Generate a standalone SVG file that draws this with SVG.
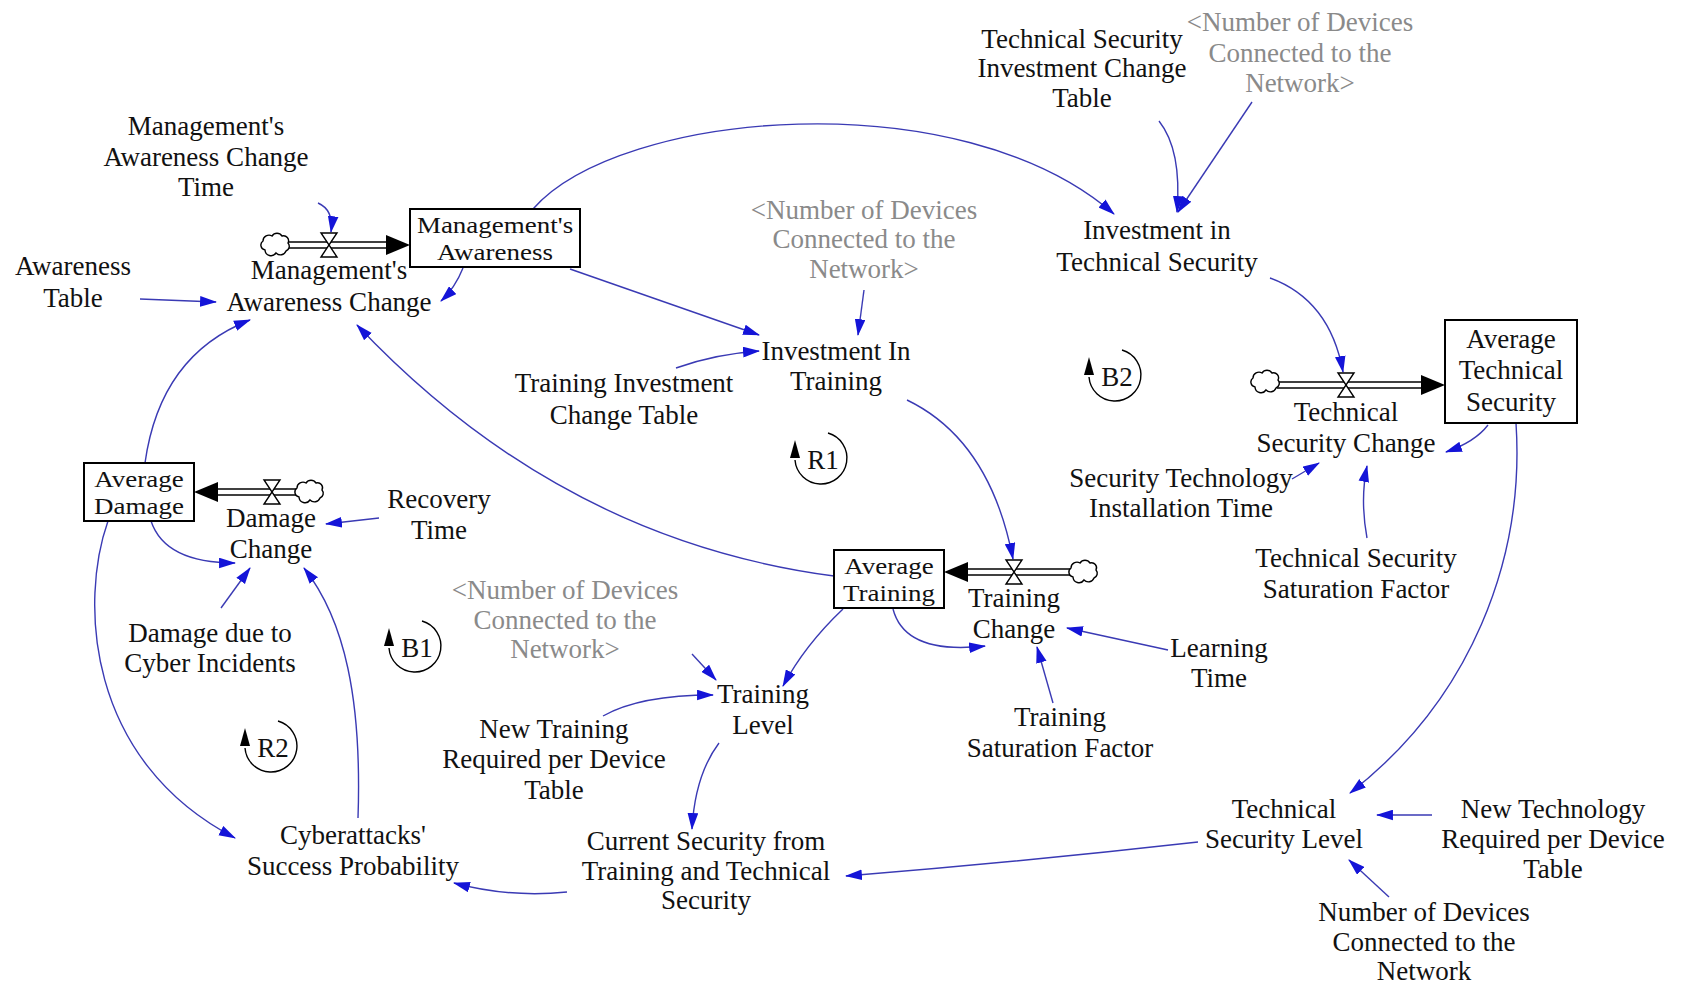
<svg xmlns="http://www.w3.org/2000/svg" width="1688" height="987" viewBox="0 0 1688 987">
<style>
.t{font-family:"Liberation Serif","Times New Roman",serif;font-size:27px;fill:#111;text-anchor:middle}
.g{fill:#8a8a8a}
.c{fill:none;stroke:#3a3ab4;stroke-width:1.4;marker-end:url(#ah)}
.box{fill:#fff;stroke:#000;stroke-width:2}
.pipe{stroke:#000;stroke-width:1.6;fill:none}
.valve{fill:#fff;stroke:#000;stroke-width:1.4}
.cloud{fill:#fff;stroke:#000;stroke-width:1.4}
.loop{fill:none;stroke:#000;stroke-width:1.4}
</style>
<defs>
<marker id="ah" viewBox="0 0 16 10" refX="15" refY="5" markerWidth="17" markerHeight="11" markerUnits="userSpaceOnUse" orient="auto">
<path d="M0,0 L16,5 L0,10 z" fill="#1414d8"/>
</marker>
<path id="cl" class="cloud" d="M-10,5 a5,5 0 0,1 -2,-9 a6,6 0 0,1 9,-5 a6,6 0 0,1 10,0 a5,5 0 0,1 6,7 a5,5 0 0,1 -2,8 a6,6 0 0,1 -10,2 a6,6 0 0,1 -11,-3 z"/>
<path id="vl" class="valve" d="M-8,-12 L8,-12 L-8,12 L8,12 z"/>
</defs>
<rect width="1688" height="987" fill="#fff"/>

<g id="connectors">
<path class="c" d="M318,203 Q334,210 331,232"/>
<path class="c" d="M140,299 L216,302"/>
<path class="c" d="M463,268 Q455,288 441,301"/>
<path class="c" d="M145,463 Q160,355 250,320"/>
<path class="c" d="M834,576 Q560,540 357,325"/>
<path class="c" d="M533,209 C620,110 960,80 1114,214"/>
<path class="c" d="M570,269 L759,335"/>
<path class="c" d="M864,290 L858,335"/>
<path class="c" d="M676,368 Q715,354 759,351"/>
<path class="c" d="M1159,121 Q1182,150 1177,212"/>
<path class="c" d="M1252,102 L1178,212"/>
<path class="c" d="M1270,278 Q1330,300 1343,372"/>
<path class="c" d="M1488,425 Q1475,442 1446,452"/>
<path class="c" d="M1292,479 L1319,463"/>
<path class="c" d="M1367,538 Q1360,500 1367,466"/>
<path class="c" d="M1516,423 C1525,560 1470,700 1350,793"/>
<path class="c" d="M1432,815 L1377,815"/>
<path class="c" d="M1389,897 L1349,860"/>
<path class="c" d="M1198,842 Q1020,862 846,876"/>
<path class="c" d="M719,743 Q695,775 692,829"/>
<path class="c" d="M567,892 Q510,898 454,883"/>
<path class="c" d="M358,818 C362,700 345,620 304,568"/>
<path class="c" d="M108,521 C80,600 85,760 235,838"/>
<path class="c" d="M151,521 Q165,563 235,563"/>
<path class="c" d="M221,608 L250,568"/>
<path class="c" d="M379,518 L326,524"/>
<path class="c" d="M907,400 Q990,440 1013,559"/>
<path class="c" d="M843,609 Q805,645 783,686"/>
<path class="c" d="M893,609 Q905,655 985,646"/>
<path class="c" d="M1168,650 L1067,628"/>
<path class="c" d="M1053,703 L1037,647"/>
<path class="c" d="M692,654 L716,680"/>
<path class="c" d="M603,716 Q640,695 713,695"/>
</g>

<g id="flow-mgmt-awareness-change">
<line class="pipe" x1="286" y1="242" x2="390" y2="242"/>
<line class="pipe" x1="286" y1="248" x2="390" y2="248"/>
<polygon points="410,245 386,235 386,255" fill="#000"/>
<use href="#cl" x="275" y="245"/>
<use href="#vl" x="329" y="245"/>
<text class="t"><tspan x="329" y="279">Management's</tspan><tspan x="329" y="311">Awareness Change</tspan></text>
</g>

<g id="flow-technical-security-change">
<line class="pipe" x1="1277" y1="382" x2="1425" y2="382"/>
<line class="pipe" x1="1277" y1="388" x2="1425" y2="388"/>
<polygon points="1445,385 1421,375 1421,395" fill="#000"/>
<use href="#cl" x="1265" y="382"/>
<use href="#vl" x="1346" y="385"/>
<text class="t"><tspan x="1346" y="421">Technical</tspan><tspan x="1346" y="452">Security Change</tspan></text>
</g>

<g id="flow-training-change">
<line class="pipe" x1="964" y1="569" x2="1071" y2="569"/>
<line class="pipe" x1="964" y1="575" x2="1071" y2="575"/>
<polygon points="944,572 968,562 968,582" fill="#000"/>
<use href="#cl" x="1083" y="572"/>
<use href="#vl" x="1014" y="572"/>
<text class="t"><tspan x="1014" y="607">Training</tspan><tspan x="1014" y="638">Change</tspan></text>
</g>

<g id="flow-damage-change">
<line class="pipe" x1="214" y1="489" x2="297" y2="489"/>
<line class="pipe" x1="214" y1="495" x2="297" y2="495"/>
<polygon points="194,492 218,482 218,502" fill="#000"/>
<use href="#cl" x="309" y="492"/>
<use href="#vl" x="272" y="492"/>
<text class="t"><tspan x="271" y="527">Damage</tspan><tspan x="271" y="558">Change</tspan></text>
</g>

<g id="stock-management-awareness">
<rect class="box" x="410" y="209" width="170" height="58"/>
<text class="t" transform="translate(495,233) scale(1,0.85)"><tspan x="0" y="0">Management's</tspan><tspan x="0" y="31.8">Awareness</tspan></text>
</g>
<g id="stock-average-technical-security">
<rect class="box" x="1445" y="320" width="132" height="103"/>
<text class="t"><tspan x="1511" y="348">Average</tspan><tspan x="1511" y="379">Technical</tspan><tspan x="1511" y="411">Security</tspan></text>
</g>
<g id="stock-average-training">
<rect class="box" x="834" y="550" width="110" height="58"/>
<text class="t" transform="translate(889,574) scale(1,0.85)"><tspan x="0" y="0">Average</tspan><tspan x="0" y="31.8">Training</tspan></text>
</g>
<g id="stock-average-damage">
<rect class="box" x="84" y="463" width="110" height="58"/>
<text class="t" transform="translate(139,487) scale(1,0.85)"><tspan x="0" y="0">Average</tspan><tspan x="0" y="31.8">Damage</tspan></text>
</g>

<g id="mgmt-awareness-change-time"><text class="t"><tspan x="206" y="135">Management's</tspan><tspan x="206" y="166">Awareness Change</tspan><tspan x="206" y="196">Time</tspan></text></g>
<g id="awareness-table"><text class="t"><tspan x="73" y="275">Awareness</tspan><tspan x="73" y="307">Table</tspan></text></g>
<g id="devices-shadow-1"><text class="t g"><tspan x="864" y="219">&lt;Number of Devices</tspan><tspan x="864" y="248">Connected to the</tspan><tspan x="864" y="278">Network&gt;</tspan></text></g>
<g id="tech-sec-investment-change-table"><text class="t"><tspan x="1082" y="48">Technical Security</tspan><tspan x="1082" y="77">Investment Change</tspan><tspan x="1082" y="107">Table</tspan></text></g>
<g id="devices-shadow-2"><text class="t g"><tspan x="1300" y="31">&lt;Number of Devices</tspan><tspan x="1300" y="62">Connected to the</tspan><tspan x="1300" y="92">Network&gt;</tspan></text></g>
<g id="investment-in-technical-security"><text class="t"><tspan x="1157" y="239">Investment in</tspan><tspan x="1157" y="271">Technical Security</tspan></text></g>
<g id="investment-in-training"><text class="t"><tspan x="836" y="360">Investment In</tspan><tspan x="836" y="390">Training</tspan></text></g>
<g id="training-investment-change-table"><text class="t"><tspan x="624" y="392">Training Investment</tspan><tspan x="624" y="424">Change Table</tspan></text></g>
<g id="security-technology-installation-time"><text class="t"><tspan x="1181" y="487">Security Technology</tspan><tspan x="1181" y="517">Installation Time</tspan></text></g>
<g id="technical-security-saturation-factor"><text class="t"><tspan x="1356" y="567">Technical Security</tspan><tspan x="1356" y="598">Saturation Factor</tspan></text></g>
<g id="learning-time"><text class="t"><tspan x="1219" y="657">Learning</tspan><tspan x="1219" y="687">Time</tspan></text></g>
<g id="training-saturation-factor"><text class="t"><tspan x="1060" y="726">Training</tspan><tspan x="1060" y="757">Saturation Factor</tspan></text></g>
<g id="recovery-time"><text class="t"><tspan x="439" y="508">Recovery</tspan><tspan x="439" y="539">Time</tspan></text></g>
<g id="damage-due-to-cyber-incidents"><text class="t"><tspan x="210" y="642">Damage due to</tspan><tspan x="210" y="672">Cyber Incidents</tspan></text></g>
<g id="devices-shadow-3"><text class="t g"><tspan x="565" y="599">&lt;Number of Devices</tspan><tspan x="565" y="629">Connected to the</tspan><tspan x="565" y="658">Network&gt;</tspan></text></g>
<g id="training-level"><text class="t"><tspan x="763" y="703">Training</tspan><tspan x="763" y="734">Level</tspan></text></g>
<g id="new-training-required"><text class="t"><tspan x="554" y="738">New Training</tspan><tspan x="554" y="768">Required per Device</tspan><tspan x="554" y="799">Table</tspan></text></g>
<g id="cyberattacks-success-probability"><text class="t"><tspan x="353" y="844">Cyberattacks'</tspan><tspan x="353" y="875">Success Probability</tspan></text></g>
<g id="current-security"><text class="t"><tspan x="706" y="850">Current Security from</tspan><tspan x="706" y="880">Training and Technical</tspan><tspan x="706" y="909">Security</tspan></text></g>
<g id="technical-security-level"><text class="t"><tspan x="1284" y="818">Technical</tspan><tspan x="1284" y="848">Security Level</tspan></text></g>
<g id="new-technology-required"><text class="t"><tspan x="1553" y="818">New Technology</tspan><tspan x="1553" y="848">Required per Device</tspan><tspan x="1553" y="878">Table</tspan></text></g>
<g id="number-of-devices"><text class="t"><tspan x="1424" y="921">Number of Devices</tspan><tspan x="1424" y="951">Connected to the</tspan><tspan x="1424" y="980">Network</tspan></text></g>

<g id="loop-R1">
<path class="loop" d="M828,433 A26,26 0 1 1 795,460"/>
<polygon points="790,458 800,458 795,440" fill="#000"/>
<text class="t" x="823" y="469">R1</text>
</g>
<g id="loop-B2">
<path class="loop" d="M1122,350 A26,26 0 1 1 1089,377"/>
<polygon points="1084,375 1094,375 1089,357" fill="#000"/>
<text class="t" x="1117" y="386">B2</text>
</g>
<g id="loop-B1">
<path class="loop" d="M422,621 A26,26 0 1 1 389,648"/>
<polygon points="384,646 394,646 389,628" fill="#000"/>
<text class="t" x="417" y="657">B1</text>
</g>
<g id="loop-R2">
<path class="loop" d="M278,721 A26,26 0 1 1 245,748"/>
<polygon points="240,746 250,746 245,728" fill="#000"/>
<text class="t" x="273" y="757">R2</text>
</g>
</svg>
